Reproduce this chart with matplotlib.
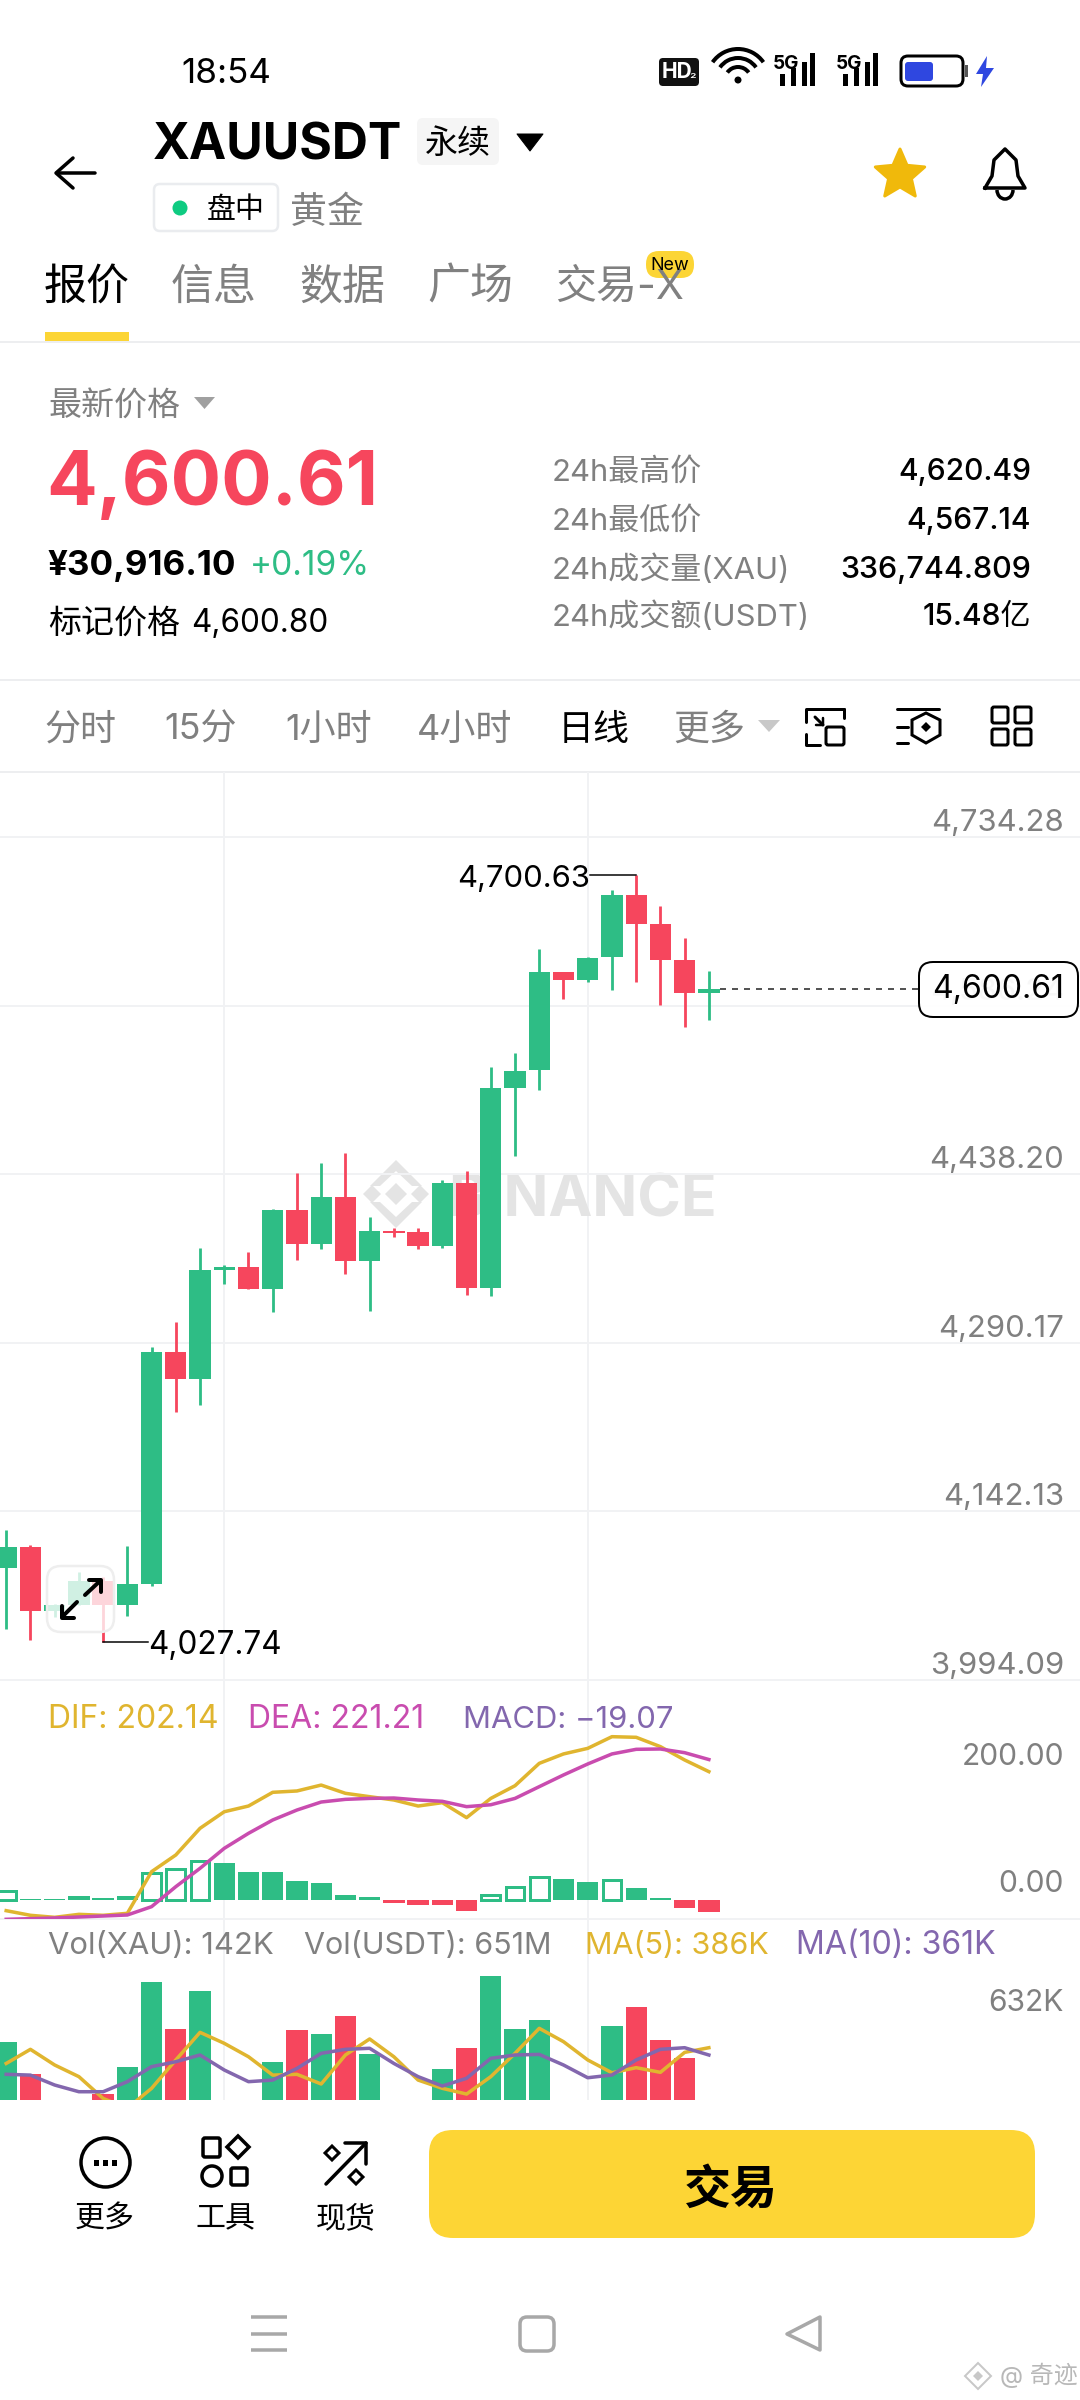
import numpy as np
import matplotlib
matplotlib.use("Agg")
import matplotlib.pyplot as plt
from matplotlib.patches import FancyBboxPatch, Polygon, Circle, Rectangle, Arc

plt.rcParams['font.family'] = ['Inter', 'Noto Sans CJK SC', 'DejaVu Sans']

# daily candles
opens = [4092, 4111.2, 4055, 4060.3, 4080.8, 4060.3, 4078.1, 4282.5, 4258.5, 4353.9,
         4356.8, 4337.5, 4406.9, 4376.5, 4418.3, 4361.9, 4388.2, 4387.1, 4375.3, 4430.1,
         4338.7, 4514.1, 4529.7, 4615.7, 4608.9, 4628.5, 4683.1, 4658, 4626, 4597.5]
closes = [4110.9, 4055, 4060.3, 4080.8, 4060.3, 4078.1, 4282.5, 4258.5, 4353.9, 4356.8,
          4337.5, 4406.9, 4376.5, 4418.3, 4361.9, 4388.2, 4386.2, 4375.3, 4430.1, 4338.7,
          4514.1, 4528.8, 4615.7, 4608.9, 4628, 4683.1, 4658.1, 4626.5, 4597.3, 4600.61]
highs = [4126.2, 4112.4, 4060.6, 4088.7, 4084.3, 4112.1, 4286.6, 4308, 4373, 4358.3,
         4369.5, 4407.5, 4438.9, 4447.7, 4456.5, 4400.8, 4390.6, 4390.6, 4433, 4440.9,
         4532, 4544.8, 4635.7, 4615.7, 4629, 4687.7, 4700.63, 4673.7, 4645.3, 4616.6]
lows = [4039.2, 4029.6, 4049.1, 4060.3, 4027.74, 4050.6, 4076.4, 4229.5, 4235.4, 4341.7,
        4337, 4316.8, 4362.7, 4372.1, 4350.2, 4318.2, 4382.7, 4372.1, 4373, 4332,
        4331.4, 4454.3, 4511.8, 4592, 4607.2, 4599.9, 4606.9, 4586.5, 4567.1, 4573.5]
price_ticks = [4734.28, 4586.24, 4438.20, 4290.17, 4142.13, 3994.09]
last_price = 4600.61

dif = [-16.8, -24.1, -27.3, -22.6, -24.1, -21, 44.6, 70.9, 112.9, 139,
       148, 169.6, 171.7, 181, 168, 162.7, 157.5, 148, 153.3, 129.7,
       160, 180, 215.2, 230, 238.8, 257.2, 256.2, 241.5, 220.5, 202.14]
dea = [-30.4, -29.4, -28.3, -26.8, -25.2, -23.6, -10.5, 21, 49.9, 81.4,
       105, 126, 141.7, 154.3, 158.5, 160, 160.6, 157.5, 155.4, 147,
       150, 160, 178.5, 196.9, 214.2, 230, 237.3, 237.8, 232, 221.21]
macd = [14, 2, 2, 5.8, 3.7, 5.8, 43, 48.3, 62, 57.7,
        44, 43.6, 30, 26, 8.4, 4, -5, -8.4, -8, -18,
        8, 20.5, 35.7, 33, 28.3, 32, 19, 3.7, -12.6, -19.07]
macd_hollow = [1, 0, 0, 0, 0, 0, 1, 1, 1, 0,
               0, 0, 0, 0, 0, 0, 0, 0, 0, 0,
               1, 1, 1, 0, 0, 1, 0, 0, 0, 0]

volume = [406.7, 294.7, 180, 170, 227, 318.7, 612.6, 450, 580.5, 190,
          180, 337, 445.6, 432, 493.6, 363, 150, 160, 314, 384,
          632, 450, 480, 180, 170, 459, 525.6, 411, 349.6, 142]
ma5 = [332, 380.4, 326.7, 286.7, 212, 178, 246.6, 344, 438.7, 401,
       355, 292, 294.7, 261.5, 361, 416, 355, 275, 246.6, 227,
       286.7, 366.7, 452.5, 406.7, 344, 300, 317.5, 301.5, 370, 386]
ma10 = [294.7, 292, 258, 235, 235, 269.5, 321, 338, 361, 309.5,
        269.5, 275, 315, 366.7, 380.4, 384, 332, 286.7, 254.6, 281,
        349.6, 361, 363, 326.7, 283, 292.4, 344, 380.4, 386, 361]

stats_names = ["24h最高价", "24h最低价", "24h成交量(XAU)", "24h成交额(USDT)"]
stats_values = ["4,620.49", "4,567.14", "336,744.809", "15.48亿"]
tabs = ["报价", "信息", "数据", "广场", "交易-X"]
intervals = ["分时", "15分", "1小时", "4小时", "日线", "更多"]

GREEN = "#2EBD85"
RED = "#F6465D"
GRID = "#F1F2F4"
GRAY = "#808080"
YELLOW = "#E0B52F"
PINK = "#C94CAF"
PURPLE = "#8367AE"
BRAND = "#FCD535"
W, H = 1080, 2400


def lw(px):
    return px * 0.72


def fs(px):
    return px * 0.72


def px_axes(z):
    a = fig.add_axes([0, 0, 1, 1], zorder=z)
    a.set_xlim(0, W)
    a.set_ylim(H, 0)
    a.axis("off")
    a.patch.set_alpha(0)
    return a


def chart_axes(top, bottom, y_at_top, y_at_bottom):
    a = fig.add_axes([0, 1 - bottom / H, 1, (bottom - top) / H], zorder=2)
    a.set_xlim(-6.2 / 24.23, (W - 6.2) / 24.23)
    a.set_ylim(y_at_bottom, y_at_top)
    a.axis("off")
    a.patch.set_alpha(0)
    return a


def txt(a, x, y, s, size, color="black", ha="left", weight="normal", **kw):
    # va=center sits a few pixels high with the CJK fallback metrics
    return a.text(x, y + 4, s, fontsize=fs(size), color=color, ha=ha, va="center",
                  weight=weight, **kw)


def axis_label(a, value, s, dy=14, size=30):
    a.annotate(s, xy=(1, value), xycoords=a.get_yaxis_transform(), xytext=(-16, dy),
               textcoords="offset pixels", ha="right", va="center",
               fontsize=fs(size), color=GRAY)


def rbox(a, x0, y0, x1, y1, r, fc="none", ec="none", px=0, **kw):
    a.add_patch(FancyBboxPatch((x0 + r, y0 + r), x1 - x0 - 2 * r, y1 - y0 - 2 * r,
                               boxstyle=f"round,pad={r}", fc=fc, ec=ec, lw=lw(px), **kw))


def line(a, xs, ys, color="black", px=3, **kw):
    a.plot(xs, ys, color=color, lw=lw(px), solid_capstyle=kw.pop("cap", "round"), **kw)


def diamond(a, cx, cy, r, **kw):
    a.add_patch(Polygon([(cx, cy - r), (cx + r, cy), (cx, cy + r), (cx - r, cy)], **kw))


fig = plt.figure(figsize=(W / 100, H / 100), dpi=100, facecolor="white")
bg = px_axes(0)
top = px_axes(5)

# ---- status bar
txt(bg, 226, 70, "18:54", 35, ha="center")
rbox(bg, 659, 58, 699, 86, 4, fc="#111111")
txt(bg, 677, 68, "HD", 21, color="white", ha="center", weight="bold")
txt(bg, 693, 68, "₂", 15, color="white", ha="center")
for r in [9, 18, 27]:
    bg.add_patch(Arc((738, 80), 2 * r + 8, 2 * r + 8, theta1=215, theta2=325, color="black", lw=lw(4)))
bg.add_patch(Circle((738, 80), 3.5, fc="black"))
for x0 in [775, 838]:
    txt(bg, x0 + 11, 60, "5G", 19, ha="center", weight="bold")
    for k, h in enumerate([12, 18, 24, 33]):
        bg.add_patch(Rectangle((x0 + 5 + k * 11 - (3 if k == 3 else 0), 86 - h), 5, h, fc="black"))
rbox(bg, 901, 56, 963, 86, 7, ec="black", px=3)
rbox(bg, 905, 62, 933, 81, 3, fc="#2F47E0")
bg.add_patch(Rectangle((965, 65), 2.5, 12, fc="#555555"))
bg.add_patch(Polygon([(987, 56), (976, 74), (983, 74), (981, 87), (994, 68), (986, 68)], fc="#2F47E0"))

# ---- header
line(bg, [57, 95], [173, 173], px=3.5)
line(bg, [73, 56, 73], [158, 173, 188], px=3.5)
txt(bg, 153, 142, "XAUUSDT", 50, weight="bold")
rbox(bg, 417, 118, 499, 165, 6, fc="#F5F5F5")
txt(bg, 458, 141, "永续", 33, ha="center")
bg.add_patch(Polygon([(517, 134), (543, 134), (530, 151)], fc="black", ec="black", lw=lw(1), joinstyle="round"))
ang = np.deg2rad(np.arange(0, 360, 36) - 90)
rad = np.where(np.arange(10) % 2 == 0, 26, 12)
bg.add_patch(Polygon(np.c_[900 + rad * np.cos(ang), 175 + rad * np.sin(ang)],
                     fc="#F0B90B", ec="#F0B90B", lw=lw(3), joinstyle="round"))
# bell
bell_x = [985, 992, 994, 1005, 1016, 1018, 1025, 985]
bell_y = [188, 176, 160, 149, 160, 176, 188, 188]
bg.plot(bell_x, bell_y, color="black", lw=lw(3.5), solid_joinstyle="round")
bg.add_patch(Arc((1005, 190), 16, 18, theta1=0, theta2=180, color="black", lw=lw(3.5)))
rbox(bg, 154, 184, 278, 231, 6, fc="white", ec="#EAECEF", px=2.5)
bg.add_patch(Circle((180, 208), 7.5, fc="#0ECB81"))
txt(bg, 236, 206, "盘中", 29, ha="center")
txt(bg, 327, 209, "黄金", 37, color=GRAY, ha="center")

for name, cx in zip(tabs, [87, 214, 342, 470, 620]):
    txt(bg, cx, 284, name, 41 if name == "交易-X" else 43,
        color="black" if name == "报价" else GRAY, ha="center")
bg.add_patch(Rectangle((45, 332), 84, 9, fc=BRAND))
rbox(bg, 646, 251, 694, 278, 13, fc=BRAND)
txt(bg, 670, 261, "New", 18, ha="center")
line(bg, [0, W], [342, 342], color="#EDEEF0", px=2, cap="butt")

# ---- price block
txt(bg, 48, 403, "最新价格", 33, color=GRAY)
bg.add_patch(Polygon([(194, 397), (215, 397), (204.5, 409)], fc="#A0A0A0"))
txt(bg, 46, 481, "4,600.61", 75, color=RED, weight="bold")
txt(bg, 48, 562, "¥30,916.10", 35, weight="bold")
txt(bg, 250, 562, "+0.19%", 33.5, color=GREEN)
txt(bg, 48, 620, "标记价格", 33)
txt(bg, 191, 620, "4,600.80", 31.5)
for name, val, y in zip(stats_names, stats_values, [468.5, 517, 565.5, 613]):
    txt(bg, 552, y, name, 31, color=GRAY)
    txt(bg, 1031, y, val, 30.5 if "336" in val else 30, ha="right", weight="medium")
line(bg, [0, W], [680, 680], color="#EDEEF0", px=2, cap="butt")

# ---- interval row
for name, cx in zip(intervals, [80, 201, 329, 465, 594, 709]):
    txt(bg, cx, 726, name, 36, color="black" if name == "日线" else GRAY, ha="center")
bg.add_patch(Polygon([(758, 720), (780, 720), (769, 732)], fc="#C8C8C8"))
line(bg, [844, 806, 806], [709, 709, 722])
line(bg, [844, 844], [709, 718])
line(bg, [806, 806, 820], [734, 745, 745])
rbox(bg, 826, 727, 844, 745, 2, ec="black", px=3)
line(bg, [815, 823], [717, 725], px=3)
line(bg, [823, 823, 816], [718, 725, 725], px=2.5)
line(bg, [897, 939], [709, 709])
line(bg, [897, 908], [727, 727])
line(bg, [897, 908], [743, 743])
bg.add_patch(Polygon([(926, 713), (940, 720), (940, 735), (926, 743), (912, 735), (912, 720)], fc="none", ec="black", lw=lw(3)))
diamond(bg, 926, 727, 5, fc="black")
for bx, by in [(992, 707), (1015, 707), (992, 729), (1015, 729)]:
    rbox(bg, bx, by, bx + 16, by + 16, 2, ec="black", px=3)
line(bg, [0, W], [772, 772], color="#EDEEF0", px=2, cap="butt")

# ---- chart grid and watermark
for x in [224, 588]:
    line(bg, [x, x], [772, 2100], color=GRID, px=2, cap="butt")
wm = "#E4E4E4"
diamond(bg, 396, 1194, 11, fc=wm)
diamond(bg, 372, 1194, 9, fc=wm)
diamond(bg, 420, 1194, 9, fc=wm)
bg.add_patch(Polygon([(396, 1160), (422, 1186), (412, 1186), (396, 1171), (380, 1186), (370, 1186)], fc=wm))
bg.add_patch(Polygon([(396, 1228), (422, 1202), (412, 1202), (396, 1217), (380, 1202), (370, 1202)], fc=wm))
txt(bg, 448, 1197, "BINANCE", 59, color=wm, weight="bold")

# ---- candles
n = len(opens)
xs = np.arange(n)
ax_p = chart_axes(772, 1680, 4734.28 + 65 * 148.04 / 168.53, 3994.09)
for v in price_ticks:
    ax_p.axhline(v, color=GRID, lw=lw(2), zorder=0, clip_on=False)
    axis_label(ax_p, v, f"{v:,.2f}", size=31)
col = [GREEN if c >= o else RED for o, c in zip(opens, closes)]
ax_p.vlines(xs, lows, highs, colors=col, lw=lw(2.8), zorder=2)
ax_p.bar(xs, np.abs(np.array(closes) - np.array(opens)), bottom=np.minimum(opens, closes),
         width=0.88, color=col, zorder=3)
ax_p.plot([29.45, (919 - 6.2) / 24.23], [last_price, last_price], color="#555555", lw=lw(2),
          dashes=(3, 3), zorder=1)

i_hi = int(np.argmax(highs))
i_lo = int(np.argmin(lows))
ax_p.plot([i_hi, i_hi - 1.9], [highs[i_hi], highs[i_hi]], color="black", lw=lw(1.5), zorder=4)
ax_p.annotate(f"{highs[i_hi]:,.2f}", xy=(i_hi - 1.9, highs[i_hi]), xytext=(0, -4), textcoords="offset pixels",
              ha="right", va="center", fontsize=fs(31), color="black")
ax_p.plot([i_lo, i_lo + 1.85], [lows[i_lo], lows[i_lo]], color="black", lw=lw(1.5), zorder=4)
ax_p.annotate(f"{lows[i_lo]:,.2f}", xy=(i_lo + 1.85, lows[i_lo]), xytext=(0, -4), textcoords="offset pixels",
              ha="left", va="center", fontsize=fs(31.5), color="black")

# ---- MACD
ax_m = chart_axes(1680, 1919, (1900 - 1680) / 0.635, -(1919 - 1900) / 0.635)
axis_label(ax_m, 200, "200.00", dy=16)
axis_label(ax_m, 0, "0.00", dy=16)
for i, v in enumerate(macd):
    c = GREEN if v >= 0 else RED
    if macd_hollow[i]:
        ax_m.bar(i, v, width=0.78, fc="white", ec=c, lw=lw(3), zorder=2)
    else:
        ax_m.bar(i, v, width=0.88, color=c, zorder=2)
ax_m.plot(xs, dif, color=YELLOW, lw=lw(3.5), zorder=3)
ax_m.plot(xs, dea, color=PINK, lw=lw(3.5), zorder=4)
line(bg, [0, W], [1919, 1919], color=GRID, px=2, cap="butt")
txt(bg, 48, 1716, "DIF: 202.14", 32, color=YELLOW)
txt(bg, 248, 1716, "DEA: 221.21", 32, color=PINK)
txt(bg, 463, 1716, "MACD: −19.07", 31, color=PURPLE)

# ---- volume
k = 0.2915
ax_v = chart_axes(1919, 2100, 632 + (1976 - 1919) / k, 632 - (2100 - 1976) / k)
axis_label(ax_v, 632, "632K", dy=-27)
ax_v.bar(xs, volume, width=0.88, color=col, zorder=2)
ax_v.plot(xs, ma5, color=YELLOW, lw=lw(3.5), zorder=3)
ax_v.plot(xs, ma10, color=PURPLE, lw=lw(3.5), zorder=4)
txt(bg, 48, 1942, "Vol(XAU): 142K", 31, color=GRAY)
txt(bg, 304, 1942, "Vol(USDT): 651M", 30.5, color=GRAY)
txt(bg, 585, 1942, "MA(5): 386K", 30.5, color=YELLOW)
txt(bg, 796, 1942, "MA(10): 361K", 32, color=PURPLE)

# ---- overlays on the chart
rbox(top, 47, 1566, 114, 1632, 14, fc=(1, 1, 1, 0.78), ec="#EEEEEE", px=2.5)
line(top, [63, 77], [1616, 1602], px=4)
line(top, [62, 62, 74], [1606, 1618, 1618], px=4)
line(top, [85, 100], [1595, 1581], px=4)
line(top, [89, 101, 101], [1580, 1580, 1592], px=4)
rbox(top, 919, 962, 1078, 1017, 14, fc=(1, 1, 1, 0.94), ec="black", px=2)
txt(top, 998.5, 985.5, f"{last_price:,.2f}", 32, ha="center")

# ---- bottom bar
bg.add_patch(Rectangle((0, 2100), W, 300, fc="white", zorder=6))
zb = 7
bg.add_patch(Circle((105.5, 2162.5), 24.5, fc="none", ec="black", lw=lw(3.5), zorder=zb))
for dx in [-9, 0, 9]:
    bg.add_patch(Rectangle((105.5 + dx - 2.5, 2160), 5, 5.5, fc="black", zorder=zb))
txt(bg, 105, 2215, "更多", 30, ha="center", zorder=zb)
rbox(bg, 203, 2138, 220, 2157, 2, ec="black", px=3.5, zorder=zb)
diamond(bg, 238, 2147, 11, fc="none", ec="black", lw=lw(3.5), zorder=zb)
bg.add_patch(Circle((212, 2176), 10, fc="none", ec="black", lw=lw(3.5), zorder=zb))
rbox(bg, 231, 2168, 247, 2185, 2, ec="black", px=3.5, zorder=zb)
txt(bg, 225, 2215, "工具", 30, ha="center", zorder=zb)
line(bg, [326, 366], [2184, 2143], px=3.5, zorder=zb)
line(bg, [345, 366, 366], [2143, 2143, 2164], px=3.5, zorder=zb)
diamond(bg, 332, 2153, 7, fc="none", ec="black", lw=lw(3), zorder=zb)
diamond(bg, 356, 2177, 7, fc="none", ec="black", lw=lw(3), zorder=zb)
txt(bg, 346, 2215, "现货", 30, ha="center", zorder=zb)
rbox(bg, 429, 2130, 1035, 2238, 24, fc="#FDD535", zorder=zb)
txt(bg, 731, 2187, "交易", 47, ha="center", weight="bold", zorder=zb)

NAV = "#A8A8A8"
for y in [2317, 2334, 2350]:
    line(bg, [251, 287], [y, y], color=NAV, px=3.5, cap="butt", zorder=zb)
rbox(bg, 520, 2317, 554, 2351, 7, ec=NAV, px=3.5, zorder=zb)
bg.add_patch(Polygon([(820, 2317), (787, 2334), (820, 2350)], fc="none", ec=NAV, lw=lw(3.5), joinstyle="round", zorder=zb))
diamond(bg, 978, 2376, 13, fc="none", ec="#C8C8C8", lw=lw(2), zorder=zb)
diamond(bg, 978, 2376, 5, fc="#C8C8C8", zorder=zb)
txt(bg, 1000, 2371, "@ 奇迹", 24, color="#B8B8B8", zorder=zb)

fig.savefig("out.png", dpi=100, facecolor="white")
